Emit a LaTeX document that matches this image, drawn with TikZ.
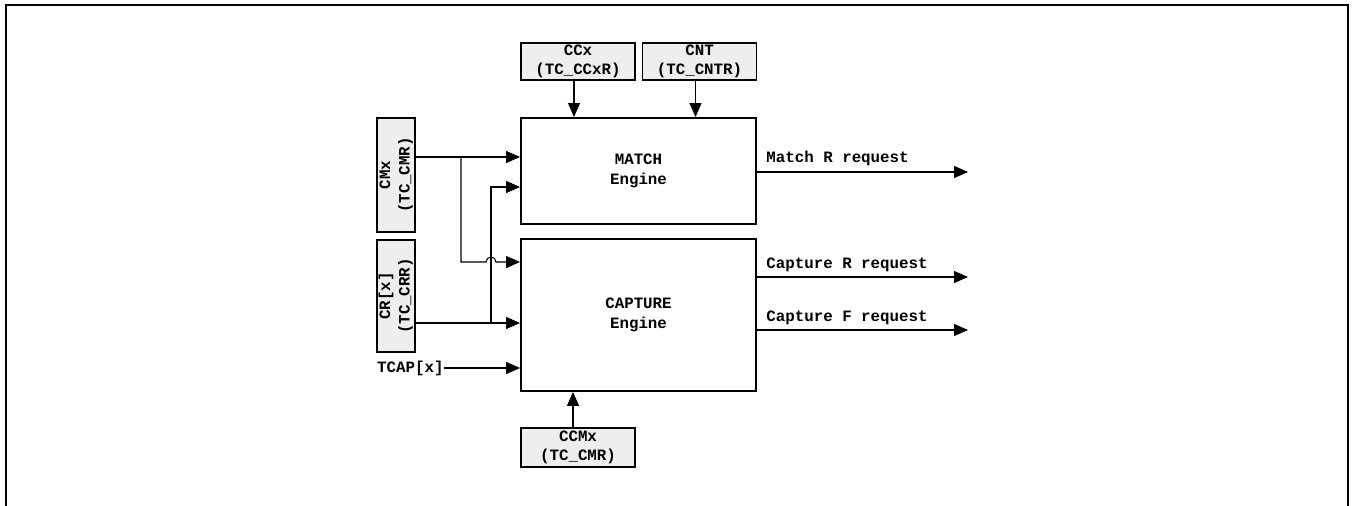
\documentclass[tikz,border=0pt]{standalone}
\usepackage{fontspec}
\setmainfont{Liberation Mono}
\usepackage{xcolor}
\usepackage{tikz}
\usetikzlibrary{arrows.meta,positioning,calc}
\definecolor{regfill}{RGB}{238,238,238}
\begin{document}
\begin{tikzpicture}[x=0.02cm, y=-0.02cm, every node/.style={font=\fontsize{9}{11}\selectfont\bfseries},
    engine/.style={draw, line width=1.1pt, fill=white, minimum width=4.7cm, align=center},
    regbox/.style={draw, line width=1.1pt, fill=regfill, minimum width=2.28cm, minimum height=0.74cm, inner sep=0pt, align=center},
    vregbox/.style={draw, line width=1.1pt, fill=regfill, minimum width=0.76cm, inner sep=0pt},
    arr/.style={-{Triangle[length=0.28cm, width=0.24cm]}, line width=0.6pt}]
        \useasboundingbox (0,0) rectangle (1355,506);
        \draw[line width=1.6pt] (6,506) -- (6,5) -- (1348,5) -- (1348,506);
        \node[engine, minimum height=2.12cm] (match) at (638.5,171) {MATCH\\Engine};
        \node[engine, minimum height=3.04cm] (capt) at (638.5,315) {CAPTURE\\Engine};
        \node[regbox] (ccx) at (578,61.5) {CCx\\(TC\_CCxR)};
        \node[regbox] (cnt) at (699.5,61.5) {CNT\\(TC\_CNTR)};
        \node[regbox, minimum height=0.78cm] (ccm) at (578,447.5) {CCMx\\(TC\_CMR)};
        \node[vregbox, minimum height=2.28cm] (cmx) at (396,175) {\rotatebox{90}{\begin{tabular}{@{}c@{}}CMx\\(TC\_CMR)\end{tabular}}};
        \node[vregbox, minimum height=2.24cm] (crx) at (396,296) {\rotatebox{90}{\begin{tabular}{@{}c@{}}CR[x]\\(TC\_CRR)\end{tabular}}};
        \node[anchor=east, inner sep=0pt] (tcap) at (444,368) {TCAP[x]};
        \node[anchor=base west, inner sep=0pt] (lmr) at (766,163) {Match R request};
        \node[anchor=base west, inner sep=0pt] (lcr) at (766,269) {Capture R request};
        \node[anchor=base west, inner sep=0pt] (lcf) at (766,322) {Capture F request};
        \coordinate (j1) at (461,157);
        \coordinate (k1) at (461,262);
        \coordinate (j2) at (491,323);
        \coordinate (k2) at (491,187);
        \coordinate (o1) at (968,172);
        \coordinate (o2) at (968,277);
        \coordinate (o3) at (968,330);
        \draw[arr] ([xshift=-0.08cm]ccx.south) -- ([xshift=-0.08cm]ccx.south |- match.north);
        \draw[arr] ([xshift=-0.08cm]cnt.south) -- ([xshift=-0.08cm]cnt.south |- match.north);
        \draw[arr] ([xshift=-0.1cm]ccm.north) -- ([xshift=-0.1cm]ccm.north |- capt.south);
        \draw[arr] (cmx.east |- j1) -- (j1 -| match.west);
        \draw[arr] (crx.east |- j2) -- (j2 -| capt.west);
        \draw[arr] (j2) -- (k2) -- (k2 -| match.west);
        \draw[arr] (j1) -- (k1) -- ($(k1 -| j2)+(-5,0)$) arc (180:0:0.1cm) -- (k1 -| capt.west);
        \draw[arr] (tcap.east) -- (tcap.east -| capt.west);
        \draw[arr] (o1 -| match.east) -- (o1);
        \draw[arr] (o2 -| capt.east) -- (o2);
        \draw[arr] (o3 -| capt.east) -- (o3);
      \end{tikzpicture}
\end{document}
